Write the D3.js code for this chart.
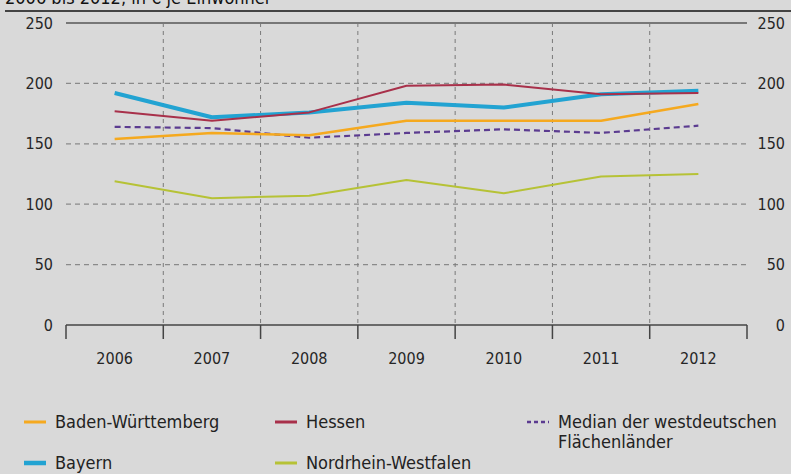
<!DOCTYPE html>
<html>
<head>
<meta charset="utf-8">
<script src="https://cdn.jsdelivr.net/npm/d3@7"></script>
<style>
  body { margin: 0; background: #d9d9d9; }
  svg { display: block; font-family: "DejaVu Sans Condensed", "DejaVu Sans", sans-serif; }
</style>
</head>
<body>
<div id="chart"></div>
<script>
const years = ["2006", "2007", "2008", "2009", "2010", "2011", "2012"];
const yTicks = [0, 50, 100, 150, 200, 250];

const badenWuerttemberg = [154, 159, 157, 169, 169, 169, 183];
const bayern = [192, 172, 176, 184, 180, 191, 194];
const hessen = [177, 169, 176, 198, 199, 191, 192];
const median = [164, 163, 155, 159, 162, 159, 165];
const nrw = [119, 105, 107, 120, 109, 123, 125];

const w = 791, h = 474;
const margin = {top: 23, right: 44, bottom: 149, left: 66};

// draw order: thin ones first, Bayern on top like the original
const series = [
    {name: "Nordrhein-Westfalen", values: nrw, color: "#b6c236", width: 2},
    {name: "Median", values: median, color: "#5b3b90", width: 2.2, dash: "6,4"},
    {name: "Baden-Württemberg", values: badenWuerttemberg, color: "#f5a91f", width: 2.5},
    {name: "Bayern", values: bayern, color: "#22a3d2", width: 4},
    {name: "Hessen", values: hessen, color: "#a8304a", width: 2}
];

const legend = [
    {label: ["Baden-Württemberg"], color: "#f5a91f", width: 3, col: 0, row: 0},
    {label: ["Hessen"], color: "#a8304a", width: 3, col: 1, row: 0},
    {label: ["Median der westdeutschen", "Flächenländer"], color: "#5b3b90", width: 2.5, dash: "4,3", col: 2, row: 0},
    {label: ["Bayern"], color: "#22a3d2", width: 4.5, col: 0, row: 1},
    {label: ["Nordrhein-Westfalen"], color: "#b6c236", width: 3, col: 1, row: 1}
];

const svg = d3.select("#chart").append("svg")
    .attr("width", w)
    .attr("height", h);

// subtitle, cut off at the top like in the original, and rule
svg.append("text")
    .attr("x", 5).attr("y", 4)
    .attr("font-size", 18)
    .attr("fill", "#111")
    .text("2006 bis 2012, in € je Einwohner");
svg.append("line")
    .attr("x1", 5).attr("x2", w)
    .attr("y1", 11).attr("y2", 11)
    .attr("stroke", "#111").attr("stroke-width", 1.5);

const x = d3.scaleBand()
    .domain(years)
    .range([margin.left, w - margin.right]);

const y = d3.scaleLinear()
    .domain([0, 250])
    .range([h - margin.bottom, margin.top]);

// horizontal grid
svg.append("g")
    .selectAll("line")
    .data(yTicks.filter(d => d > 0 && d < 250))
    .enter().append("line")
    .attr("x1", x.range()[0]).attr("x2", x.range()[1])
    .attr("y1", d => y(d)).attr("y2", d => y(d))
    .attr("stroke", "#8a8a8a")
    .attr("stroke-width", 1.2)
    .attr("stroke-dasharray", "5,4");

// vertical grid between years
svg.append("g")
    .selectAll("line")
    .data(years.slice(1))
    .enter().append("line")
    .attr("x1", d => x(d)).attr("x2", d => x(d))
    .attr("y1", y(250)).attr("y2", y(0))
    .attr("stroke", "#7a7a7a")
    .attr("stroke-width", 1)
    .attr("stroke-dasharray", "4,4");

// top line at 250
svg.append("line")
    .attr("x1", x.range()[0]).attr("x2", x.range()[1])
    .attr("y1", y(250)).attr("y2", y(250))
    .attr("stroke", "#777").attr("stroke-width", 2);

// x axis baseline with ticks at band edges
const edges = years.map(d => x(d)).concat([x.range()[1]]);
svg.append("line")
    .attr("x1", x.range()[0]).attr("x2", x.range()[1])
    .attr("y1", y(0)).attr("y2", y(0))
    .attr("stroke", "#444").attr("stroke-width", 1.5);
svg.append("g")
    .selectAll("line")
    .data(edges)
    .enter().append("line")
    .attr("x1", d => d).attr("x2", d => d)
    .attr("y1", y(0)).attr("y2", y(0) + 14)
    .attr("stroke", "#444").attr("stroke-width", 1.5);

const xAxis = svg.append("g")
    .attr("transform", "translate(0," + y(0) + ")")
    .call(d3.axisBottom(x).tickSize(0).tickPadding(28));
xAxis.select(".domain").remove();

const yLeft = svg.append("g")
    .attr("transform", "translate(" + margin.left + ",0)")
    .call(d3.axisLeft(y).tickValues(yTicks).tickSize(0).tickPadding(13));
yLeft.select(".domain").remove();

const yRight = svg.append("g")
    .attr("transform", "translate(785,0)")
    .call(d3.axisRight(y).tickValues(yTicks).tickSize(0).tickPadding(0));
yRight.select(".domain").remove();
yRight.selectAll("text").attr("text-anchor", "end");

svg.selectAll(".tick text")
    .attr("font-size", 16)
    .attr("font-family", "DejaVu Sans Condensed")
    .attr("fill", "#262626");

// lines
const line = d3.line()
    .x((d, i) => x(years[i]) + x.bandwidth() / 2)
    .y(d => y(d));

svg.append("g")
    .selectAll("path")
    .data(series)
    .enter().append("path")
    .attr("d", d => line(d.values))
    .attr("fill", "none")
    .attr("stroke", d => d.color)
    .attr("stroke-width", d => d.width)
    .attr("stroke-dasharray", d => d.dash || null)
    .attr("stroke-linejoin", "round");

// legend
const colX = [24, 275, 527];
const rowY = [428, 469];

let lg = svg.append("g").selectAll("g")
    .data(legend)
    .enter().append("g")
    .attr("transform", d => "translate(" + colX[d.col] + "," + rowY[d.row] + ")");

lg.append("line")
    .attr("x1", 0).attr("x2", 22)
    .attr("y1", -6).attr("y2", -6)
    .attr("stroke", d => d.color)
    .attr("stroke-width", d => d.width)
    .attr("stroke-dasharray", d => d.dash || null);

lg.append("text")
    .attr("x", 31)
    .attr("font-size", 18)
    .attr("fill", "#222")
    .each(function (d) {
        d3.select(this).selectAll("tspan")
            .data(d.label)
            .enter().append("tspan")
            .attr("x", 31)
            .attr("dy", (t, i) => i === 0 ? 0 : 20)
            .text(t => t);
    });
</script>
</body>
</html>
